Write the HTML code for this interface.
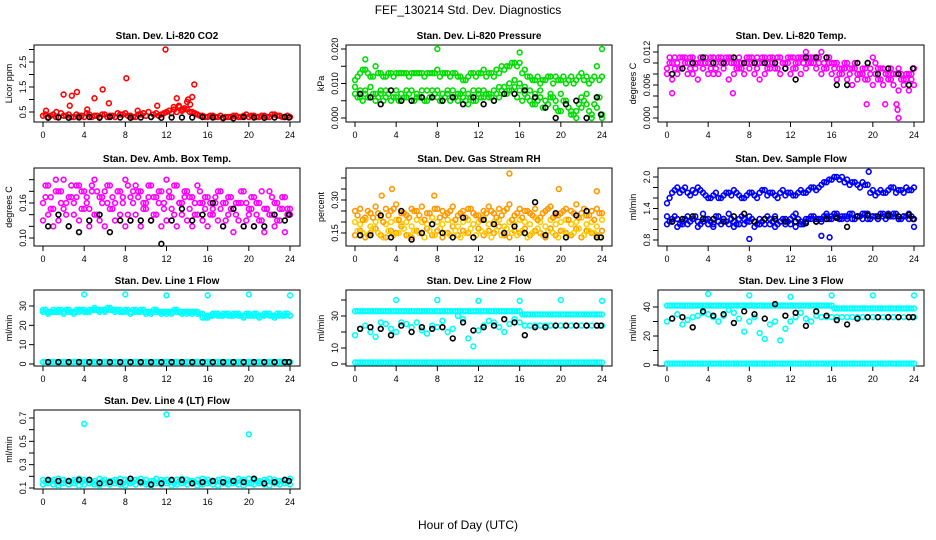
<!DOCTYPE html>
<html><head><meta charset="utf-8">
<style>
html,body{margin:0;padding:0;background:#fff;}
svg{display:block;font-family:"Liberation Sans",Arial,sans-serif;}
</style></head>
<body>
<svg id="c" width="936" height="540" viewBox="0 0 936 540">
<text x="468" y="14" text-anchor="middle" font-size="12">FEF_130214  Std. Dev. Diagnostics</text>
<text x="468" y="529" text-anchor="middle" font-size="12">Hour of Day (UTC)</text>
</svg>
<script>
// ---- shared hour categories ----
const hours = [0,0.5,1,1.5,2,2.5,3,3.5,4,4.5,5,5.5,6,6.5,7,7.5,8,8.5,9,9.5,10,10.5,11,11.5,12,12.5,13,13.5,14,14.5,15,15.5,16,16.5,17,17.5,18,18.5,19,19.5,20,20.5,21,21.5,22,22.5,23,23.5,24];
const hoursQ = [0.25,0.75,1.25,1.75,2.25,2.75,3.25,3.75,4.25,4.75,5.25,5.75,6.25,6.75,7.25,7.75,8.25,8.75,9.25,9.75,10.25,10.75,11.25,11.75,12.25,12.75,13.25,13.75,14.25,14.75,15.25,15.75,16.25,16.75,17.25,17.75,18.25,18.75,19.25,19.75,20.25,20.75,21.25,21.75,22.25,22.75,23.25,23.75];
const hoursB = [0.5,1.5,2.5,3.5,4.5,5.5,6.5,7.5,8.5,9.5,10.5,11.5,12.5,13.5,14.5,15.5,16.5,17.5,18.5,19.5,20.5,21.5,22.5,23.5,23.9];
const xTicks = [0,4,8,12,16,20,24];
const onesH = [1,1,1,1,1,1,1,1,1,1,1,1,1,1,1,1,1,1,1,1,1,1,1,1,1,1,1,1,1,1,1,1,1,1,1,1,1,1,1,1,1,1,1,1,1,1,1,1,1];
const onesQ = [1,1,1,1,1,1,1,1,1,1,1,1,1,1,1,1,1,1,1,1,1,1,1,1,1,1,1,1,1,1,1,1,1,1,1,1,1,1,1,1,1,1,1,1,1,1,1,1];

// ---- CO2 ----
const co2A = [0.35,0.3,0.4,0.3,0.35,0.4,0.3,0.35,0.3,0.4,0.35,0.3,0.4,0.35,0.3,0.4,0.45,0.35,0.3,0.4,0.35,0.3,0.45,0.4,0.5,0.45,0.5,0.55,0.6,0.5,0.4,0.35,0.3,0.35,0.3,0.25,0.3,0.35,0.3,0.35,0.3,0.35,0.3,0.35,0.3,0.4,0.35,0.3,0.3];
const co2Q = [0.4,0.35,0.3,0.45,0.35,0.3,0.4,0.35,0.45,0.3,0.35,0.4,0.3,0.35,0.45,0.4,0.35,0.3,0.4,0.45,0.5,0.4,0.35,0.45,0.55,0.6,0.7,0.65,0.5,0.45,0.35,0.3,0.35,0.3,0.35,0.3,0.3,0.35,0.3,0.4,0.35,0.3,0.35,0.3,0.4,0.35,0.3,0.35];
const co2OutX = [0.3,1.3,2,2.6,2.8,3.3,4.3,5,5.8,6.4,8.1,9.2,11.1,11.9,12.7,13,13.2,14.1,14.5,14.7,14.3,14,13.6];
const co2OutY = [0.55,0.5,1.2,0.75,1.15,1.3,0.6,1.05,1.4,0.85,1.85,0.55,0.75,3.0,0.7,1.05,0.75,1.0,1.1,1.6,0.8,0.9,0.6];
const co2B = [0.27,0.28,0.27,0.28,0.3,0.27,0.3,0.28,0.27,0.28,0.3,0.27,0.28,0.28,0.28,0.3,0.28,0.27,0.25,0.3,0.28,0.27,0.28,0.3,0.28];

// ---- Pressure ----
const presA = [0.011,0.013,0.014,0.012,0.015,0.013,0.012,0.013,0.013,0.013,0.013,0.013,0.013,0.013,0.013,0.013,0.014,0.013,0.013,0.013,0.012,0.011,0.012,0.013,0.013,0.014,0.013,0.012,0.013,0.014,0.015,0.016,0.016,0.014,0.012,0.011,0.010,0.011,0.012,0.012,0.011,0.010,0.012,0.011,0.013,0.012,0.011,0.015,0.012];
const presB = [0.007,0.006,0.007,0.006,0.005,0.007,0.006,0.005,0.006,0.005,0.006,0.005,0.006,0.006,0.005,0.006,0.006,0.005,0.007,0.006,0.005,0.006,0.004,0.005,0.007,0.006,0.006,0.005,0.006,0.007,0.008,0.009,0.008,0.007,0.005,0.004,0.006,0.003,0.006,0.005,0.002,0.004,0.001,0.002,0.006,0.004,0.001,0.006,0.001];
const presC = [0.009,0.008,0.008,0.009,0.007,0.008,0.008,0.008,0.008,0.007,0.008,0.008,0.007,0.008,0.008,0.008,0.008,0.007,0.008,0.008,0.007,0.008,0.007,0.008,0.008,0.008,0.007,0.008,0.009,0.009,0.010,0.011,0.010,0.009,0.008,0.007,0.008,0.005,0.007,0.003,0.007,0.005,0.002,0.000,0.003,0.007,0.000,0.003,0.000];
const presQ = [0.012,0.014,0.013,0.012,0.013,0.012,0.013,0.012,0.013,0.013,0.012,0.013,0.013,0.012,0.013,0.013,0.012,0.013,0.012,0.013,0.012,0.011,0.013,0.012,0.013,0.012,0.013,0.014,0.015,0.015,0.016,0.015,0.013,0.012,0.011,0.012,0.011,0.012,0.010,0.011,0.012,0.011,0.010,0.012,0.011,0.010,0.012,0.011];
const presQ2 = [0.006,0.005,0.006,0.007,0.006,0.005,0.007,0.006,0.005,0.006,0.007,0.005,0.006,0.005,0.006,0.007,0.005,0.006,0.005,0.006,0.007,0.005,0.006,0.005,0.006,0.007,0.006,0.007,0.008,0.007,0.008,0.006,0.005,0.006,0.004,0.005,0.003,0.004,0.006,0.002,0.005,0.003,0.001,0.004,0.005,0.002,0.004,0.006];
const presOutX = [8,16,24,1];
const presOutY = [0.020,0.019,0.020,0.017];
const presBlk = [0.007,0.006,0.004,0.008,0.005,0.005,0.006,0.006,0.005,0.006,0.004,0.006,0.004,0.005,0.007,0.007,0.008,0.006,0.003,0.000,0.004,0.005,0.000,0.006,0.001];

// ---- Li-820 Temp ----
const tmpA = [0.009,0.010,0.010,0.011,0.010,0.011,0.010,0.009,0.010,0.011,0.011,0.010,0.011,0.010,0.011,0.010,0.011,0.010,0.010,0.011,0.011,0.010,0.011,0.010,0.011,0.010,0.011,0.012,0.011,0.011,0.012,0.011,0.010,0.010,0.009,0.010,0.009,0.008,0.009,0.010,0.011,0.009,0.009,0.008,0.008,0.009,0.007,0.008,0.009];
const tmpB = [0.008,0.007,0.008,0.009,0.008,0.008,0.007,0.009,0.008,0.008,0.008,0.009,0.007,0.008,0.009,0.008,0.009,0.008,0.007,0.008,0.009,0.009,0.008,0.009,0.008,0.009,0.008,0.009,0.010,0.009,0.008,0.009,0.008,0.007,0.008,0.007,0.006,0.007,0.008,0.007,0.006,0.007,0.006,0.007,0.006,0.005,0.006,0.005,0.006];
const tmpQ = [0.010,0.009,0.011,0.010,0.009,0.010,0.011,0.010,0.009,0.010,0.011,0.010,0.011,0.010,0.009,0.011,0.010,0.011,0.010,0.009,0.010,0.011,0.010,0.011,0.009,0.010,0.011,0.010,0.011,0.010,0.009,0.010,0.009,0.008,0.009,0.008,0.009,0.008,0.007,0.009,0.008,0.007,0.008,0.007,0.008,0.007,0.008,0.007];
const tmpQ2 = [0.011,0.011,0.009,0.011,0.011,0.009,0.010,0.011,0.011,0.009,0.010,0.011,0.010,0.009,0.010,0.010,0.011,0.009,0.011,0.010,0.011,0.009,0.010,0.010,0.011,0.011,0.010,0.011,0.010,0.011,0.010,0.011,0.010,0.009,0.010,0.009,0.010,0.008,0.009,0.008,0.010,0.009,0.008,0.009,0.008,0.008,0.007,0.008];
const tmpOutX = [0.5,19.4,21.2,22.3,22.4,22.5,6.4];
const tmpOutY = [0.0045,0.0025,0.0025,0.0025,0.0015,0.0,0.0045];
const tmpBlk = [0.008,0.009,0.010,0.011,0.010,0.010,0.011,0.010,0.010,0.010,0.010,0.009,0.007,0.011,0.011,0.011,0.006,0.006,0.010,0.010,0.008,0.009,0.008,0.006,0.009];

// ---- Amb Box Temp ----
const ambA = [0.16,0.19,0.15,0.18,0.20,0.17,0.16,0.19,0.18,0.15,0.20,0.17,0.18,0.19,0.16,0.18,0.20,0.17,0.19,0.18,0.16,0.19,0.17,0.18,0.20,0.17,0.19,0.16,0.18,0.17,0.19,0.16,0.17,0.15,0.18,0.16,0.17,0.15,0.16,0.18,0.15,0.17,0.16,0.15,0.18,0.16,0.15,0.17,0.15];
const ambB = [0.13,0.14,0.12,0.13,0.15,0.12,0.14,0.13,0.15,0.12,0.14,0.13,0.12,0.15,0.13,0.14,0.12,0.13,0.14,0.12,0.15,0.13,0.14,0.12,0.13,0.15,0.12,0.14,0.13,0.12,0.14,0.13,0.12,0.14,0.13,0.12,0.14,0.11,0.13,0.12,0.14,0.12,0.13,0.11,0.14,0.12,0.13,0.11,0.14];
const ambQ = [0.17,0.15,0.18,0.16,0.14,0.19,0.17,0.15,0.16,0.18,0.14,0.17,0.16,0.15,0.18,0.17,0.14,0.16,0.18,0.15,0.17,0.14,0.16,0.15,0.18,0.14,0.16,0.17,0.15,0.14,0.16,0.15,0.14,0.16,0.15,0.13,0.15,0.14,0.16,0.13,0.15,0.14,0.13,0.15,0.14,0.13,0.15,0.14];
const ambQ2 = [0.19,0.17,0.20,0.18,0.16,0.17,0.19,0.18,0.17,0.19,0.18,0.16,0.19,0.17,0.18,0.16,0.19,0.18,0.17,0.16,0.19,0.17,0.18,0.16,0.17,0.19,0.16,0.18,0.17,0.16,0.18,0.17,0.16,0.17,0.18,0.16,0.17,0.16,0.18,0.16,0.17,0.16,0.18,0.15,0.17,0.16,0.17,0.15];
const ambBlk = [0.12,0.14,0.12,0.11,0.13,0.14,0.11,0.13,0.13,0.13,0.13,0.09,0.13,0.15,0.13,0.14,0.16,0.12,0.15,0.12,0.12,0.12,0.14,0.13,0.14];

// ---- Gas Stream RH ----
const rhA = [0.25,0.26,0.22,0.24,0.27,0.23,0.26,0.25,0.28,0.24,0.23,0.26,0.25,0.27,0.24,0.22,0.26,0.25,0.24,0.27,0.23,0.25,0.26,0.24,0.23,0.25,0.27,0.24,0.26,0.25,0.28,0.23,0.26,0.25,0.24,0.26,0.22,0.25,0.27,0.23,0.24,0.26,0.25,0.28,0.24,0.23,0.25,0.26,0.24];
const rhB = [0.14,0.16,0.13,0.15,0.17,0.14,0.13,0.16,0.15,0.18,0.14,0.13,0.16,0.15,0.17,0.14,0.16,0.13,0.15,0.18,0.14,0.16,0.15,0.13,0.17,0.14,0.16,0.15,0.18,0.14,0.13,0.16,0.15,0.17,0.14,0.16,0.15,0.13,0.17,0.14,0.16,0.15,0.14,0.17,0.13,0.16,0.15,0.14,0.16];
const rhC = [0.20,0.19,0.21,0.18,0.20,0.22,0.19,0.20,0.21,0.19,0.20,0.18,0.21,0.20,0.19,0.22,0.20,0.19,0.21,0.20,0.18,0.20,0.21,0.19,0.20,0.22,0.19,0.20,0.21,0.18,0.20,0.19,0.21,0.20,0.19,0.22,0.20,0.18,0.21,0.19,0.20,0.21,0.19,0.20,0.22,0.19,0.20,0.18,0.21];
const rhQ = [0.16,0.15,0.14,0.17,0.15,0.13,0.16,0.14,0.15,0.17,0.14,0.16,0.15,0.13,0.16,0.14,0.17,0.15,0.14,0.16,0.13,0.15,0.17,0.14,0.16,0.15,0.13,0.16,0.14,0.17,0.15,0.14,0.16,0.13,0.15,0.17,0.14,0.16,0.15,0.13,0.16,0.14,0.15,0.17,0.14,0.16,0.15,0.13];
const rhQ2 = [0.23,0.21,0.25,0.22,0.24,0.20,0.23,0.26,0.21,0.24,0.22,0.25,0.23,0.21,0.24,0.26,0.22,0.23,0.25,0.21,0.24,0.22,0.26,0.23,0.21,0.24,0.25,0.22,0.23,0.26,0.21,0.24,0.22,0.25,0.23,0.21,0.24,0.26,0.22,0.23,0.25,0.21,0.24,0.22,0.26,0.23,0.21,0.24];
const rhOutX = [3.6,15,19.8,23.5,2.6,7.7];
const rhOutY = [0.35,0.42,0.35,0.34,0.32,0.32];
const rhBlk = [0.14,0.14,0.23,0.13,0.25,0.12,0.15,0.19,0.15,0.13,0.22,0.13,0.21,0.19,0.15,0.18,0.15,0.29,0.14,0.24,0.13,0.23,0.25,0.13,0.13];

// ---- Sample Flow ----
const sfA = [1.5,1.7,1.8,1.75,1.7,1.75,1.8,1.7,1.6,1.65,1.6,1.65,1.7,1.75,1.65,1.6,1.7,1.65,1.7,1.75,1.7,1.65,1.7,1.65,1.7,1.65,1.75,1.7,1.8,1.75,1.85,1.9,1.95,2.0,2.0,1.95,1.9,1.85,1.9,1.85,1.75,1.7,1.7,1.75,1.8,1.75,1.7,1.75,1.8];
const sfB = [1.25,1.15,1.2,1.1,1.25,1.2,1.15,1.3,1.2,1.1,1.25,1.2,1.3,1.15,1.1,1.2,1.25,1.15,1.2,1.1,1.2,1.25,1.15,1.1,1.2,1.3,1.15,1.2,1.25,1.2,1.15,1.3,1.25,1.3,1.25,1.2,1.3,1.25,1.2,1.3,1.25,1.2,1.3,1.25,1.3,1.2,1.25,1.3,1.2];
const sfC = [1.1,1.2,1.05,1.15,1.1,1.2,1.05,1.15,1.1,1.05,1.15,1.2,1.1,1.05,1.2,1.1,1.15,1.05,1.1,1.2,1.1,1.05,1.15,1.2,1.1,1.05,1.1,1.15,1.2,1.15,1.2,1.25,1.2,1.25,1.2,1.25,1.2,1.25,1.3,1.2,1.25,1.2,1.25,1.3,1.25,1.2,1.25,1.2,1.05];
const sfQ = [1.6,1.75,1.7,1.8,1.65,1.7,1.75,1.65,1.6,1.7,1.6,1.7,1.65,1.7,1.6,1.65,1.7,1.6,1.75,1.65,1.7,1.6,1.75,1.7,1.65,1.7,1.7,1.75,1.8,1.8,1.9,1.95,2.0,1.95,1.9,1.85,1.9,1.8,1.85,1.7,1.65,1.75,1.7,1.8,1.7,1.75,1.8,1.75];
const sfQ2 = [1.15,1.25,1.1,1.2,1.15,1.25,1.1,1.2,1.15,1.25,1.1,1.15,1.2,1.1,1.25,1.15,1.2,1.1,1.15,1.25,1.15,1.1,1.2,1.15,1.25,1.2,1.1,1.2,1.25,1.2,1.25,1.2,1.3,1.2,1.25,1.3,1.2,1.25,1.3,1.2,1.25,1.3,1.2,1.25,1.3,1.2,1.25,1.25];
const sfOutX = [8,15,15.8,19.6];
const sfOutY = [0.82,0.88,0.85,2.1];
const sfBlk = [1.15,1.2,1.25,1.2,1.2,1.15,1.25,1.3,1.15,1.2,1.2,1.15,1.15,1.12,1.15,1.2,1.22,1.05,1.25,1.27,1.25,1.27,1.25,1.28,1.2];

// ---- Line 1 Flow ----
const l1A = [28,27,28,28,27,28,27,28,28,28,29,28,28,29,28,28,28,27,28,28,27,27,28,27,27,27,28,27,27,27,27,26,25,26,26,26,26,26,26,25,26,26,25,26,26,25,26,26,25];
const l1B = [27,26,27,27,26,27,26,27,27,27,28,27,27,28,27,27,27,26,27,27,26,26,27,26,26,26,27,26,26,26,26,24,24,25,25,25,25,25,25,24,25,25,24,25,25,24,25,25,25];
const l1Q = [28,27,27,28,28,27,28,28,27,28,28,28,29,28,28,27,28,28,27,28,27,28,27,27,27,28,27,27,27,27,26,24,25,26,25,26,25,26,25,26,25,26,25,26,25,26,25,26];
const l1OutX = [4,8,12,16,20,24];
const l1OutY = [36,36,35.5,35.5,36,35.5];
const l1Blk = [1,1,1,1,1,1,1,1,1,1,1,1,1,1,1,1,1,1,1,1,1,1,1,1,1];

// ---- Line 2 Flow ----
const l2A = [33,33,33,33,33,33,33,33,33,33,33,33,33,33,33,33,33,33,33,33,33,33,33,33,33,33,33,33,33,33,33,33,33,31,31,31,31,31,31,31,31,31,31,31,31,31,31,31,31];
const l2Q = [33,33,33,33,33,33,33,33,33,33,33,33,33,33,33,33,33,33,33,33,33,33,33,33,33,33,33,33,33,33,33,33,31,31,31,31,31,31,31,31,31,31,31,31,31,31,31,31];
const l2B = [18,22,24,20,17,26,25,22,20,26,25,23,26,21,19,24,23,27,20,22,30,28,16,11,21,24,27,26,23,20,25,28,26,24,24,24,24,24,24,24,24,24,24,24,24,24,24,24,24];
const l2OutX = [4,8,12,16,20,24];
const l2OutY = [40,40,39.5,39.5,40,39.5];
const l2Blk = [22,23,22,18,24,20,23,22,23,16,26,21,23,24,28,26,18,23,23,24,24,24,24,24,24];

// ---- Line 3 Flow ----
const l3A = [41,41,41,41,41,41,41,41,41,41,41,41,41,41,41,41,41,41,41,41,41,41,41,41,41,41,41,41,41,41,41,41,41,39,39,39,39,39,39,39,39,39,39,39,39,39,39,39,39];
const l3Q = [41,41,41,41,41,41,41,41,41,41,41,41,41,41,41,41,41,41,41,41,41,41,41,41,41,41,41,41,41,41,41,41,39,39,39,39,39,39,39,39,39,39,39,39,39,39,39,39];
const l3B = [30,32,35,28,31,33,34,36,35,33,30,34,38,36,32,23,30,33,22,18,28,30,17,25,30,33,36,32,30,34,33,33,33,33,33,33,33,33,33,33,33,33,33,33,33,33,33,33,33];
const l3OutX = [4,8,12,16,20,24];
const l3OutY = [49,48,47,48,48,48];
const l3Blk = [32,33,26,37,34,35,29,37,35,32,42,34,36,27,37,34,31,28,32,33,33,33,33,33,33];

// ---- Line 4 Flow ----
const l4A = [0.17,0.16,0.17,0.18,0.17,0.16,0.17,0.18,0.17,0.17,0.16,0.18,0.17,0.16,0.17,0.18,0.17,0.16,0.17,0.18,0.17,0.16,0.18,0.17,0.17,0.16,0.17,0.18,0.17,0.16,0.17,0.18,0.17,0.16,0.17,0.18,0.17,0.16,0.18,0.17,0.18,0.17,0.16,0.17,0.18,0.17,0.16,0.17,0.18];
const l4B = [0.13,0.14,0.13,0.12,0.14,0.13,0.14,0.12,0.13,0.14,0.13,0.12,0.14,0.13,0.14,0.13,0.12,0.14,0.13,0.14,0.13,0.12,0.14,0.13,0.14,0.12,0.13,0.14,0.13,0.14,0.12,0.13,0.14,0.13,0.12,0.14,0.13,0.14,0.13,0.12,0.14,0.13,0.14,0.13,0.12,0.14,0.13,0.14,0.13];
const l4Q = [0.15,0.16,0.15,0.14,0.16,0.15,0.16,0.15,0.16,0.15,0.14,0.16,0.15,0.16,0.15,0.14,0.16,0.15,0.16,0.15,0.14,0.16,0.15,0.16,0.15,0.14,0.16,0.15,0.16,0.15,0.14,0.16,0.15,0.16,0.15,0.14,0.16,0.15,0.16,0.15,0.14,0.16,0.15,0.16,0.15,0.14,0.16,0.15];
const l4OutX = [4,12,20];
const l4OutY = [0.65,0.73,0.56];
const l4Blk = [0.17,0.16,0.16,0.17,0.17,0.14,0.15,0.15,0.18,0.15,0.13,0.14,0.17,0.17,0.14,0.15,0.16,0.15,0.16,0.15,0.18,0.14,0.15,0.17,0.16];

const NS = "http://www.w3.org/2000/svg";
const svg = document.getElementById('c');
const rowTop = [45,168,290,410], rowBot = [122,246,366,489];
const RED='#ff0000', GRN='#00dd00', MAG='#ff00ff', ORG='#ff9900', YEL='#ffcc00', BLU='#0000ff', CYA='#00ffff', BLK='#000000';

function mk(tag, attrs, parent){
  const e = document.createElementNS(NS, tag);
  for (const k in attrs) e.setAttribute(k, attrs[k]);
  parent.appendChild(e); return e;
}

const panels = [
  {name:'co2', col:0,row:0,title:'Stan. Dev. Li-820 CO2', ylab:'Licor ppm', v0:0.5,p0:112, v1:2.5,p1:62,
   ticks:[0.5,1,1.5,2,2.5,3], labels:['0.5','1.5','2.5'],
   series:[{name:'co2-series',x:hours,y:co2A,color:RED},{name:'co2-series-2',x:hoursQ,y:co2Q,color:RED},{name:'co2-outliers',x:co2OutX,y:co2OutY,color:RED},{name:'co2-black-series',x:hoursB,y:co2B,color:BLK}]},
  {name:'pressure', col:1,row:0,title:'Stan. Dev. Li-820 Pressure', ylab:'kPa', v0:0,p0:118, v1:0.02,p1:49,
   ticks:[0,0.005,0.01,0.015,0.02], labels:['0.000','0.010','0.020'],
   series:[{name:'pressure-upper',x:hours,y:presA,color:GRN},{name:'pressure-upper-2',x:hoursQ,y:presQ,color:GRN},{name:'pressure-lower',x:hours,y:presB,color:GRN},{name:'pressure-lower-2',x:hoursQ,y:presQ2,color:GRN},{name:'pressure-mid',x:hours,y:presC,color:GRN},{name:'pressure-outliers',x:presOutX,y:presOutY,color:GRN},{name:'pressure-black-series',x:hoursB,y:presBlk,color:BLK}]},
  {name:'li820-temp', col:2,row:0,title:'Stan. Dev. Li-820 Temp.', ylab:'degrees C', v0:0,p0:118, v1:0.012,p1:52,
   ticks:[0,0.002,0.004,0.006,0.008,0.01,0.012], labels:['0.000','0.006','0.012'],
   series:[{name:'temp-upper',x:hours,y:tmpA,color:MAG},{name:'temp-lower',x:hours,y:tmpB,color:MAG},{name:'temp-q',x:hoursQ,y:tmpQ,color:MAG},{name:'temp-q2',x:hoursQ,y:tmpQ2,color:MAG},{name:'temp-outliers',x:tmpOutX,y:tmpOutY,color:MAG},{name:'temp-black-series',x:hoursB,y:tmpBlk,color:BLK}]},
  {name:'amb-box-temp', col:0,row:1,title:'Stan. Dev. Amb. Box Temp.', ylab:'degrees C', v0:0.10,p0:238, v1:0.16,p1:203,
   ticks:[0.1,0.12,0.14,0.16,0.18,0.2], labels:['0.10','0.16'],
   series:[{name:'amb-upper',x:hours,y:ambA,color:MAG},{name:'amb-lower',x:hours,y:ambB,color:MAG},{name:'amb-q',x:hoursQ,y:ambQ,color:MAG},{name:'amb-q2',x:hoursQ,y:ambQ2,color:MAG},{name:'amb-black-series',x:hoursB,y:ambBlk,color:BLK}]},
  {name:'gas-rh', col:1,row:1,title:'Stan. Dev. Gas Stream RH', ylab:'percent', v0:0.15,p0:233, v1:0.30,p1:200,
   ticks:[0.15,0.2,0.25,0.3,0.35,0.4], labels:['0.15','0.30'],
   series:[{name:'rh-upper',x:hours,y:rhA,color:ORG},{name:'rh-lower',x:hours,y:rhB,color:ORG},{name:'rh-mid',x:hours,y:rhC,color:YEL},{name:'rh-q',x:hoursQ,y:rhQ,color:YEL},{name:'rh-q2',x:hoursQ,y:rhQ2,color:ORG},{name:'rh-outliers',x:rhOutX,y:rhOutY,color:ORG},{name:'rh-black-series',x:hoursB,y:rhBlk,color:BLK}]},
  {name:'sample-flow', col:2,row:1,title:'Stan. Dev. Sample Flow', ylab:'ml/min', v0:0.8,p0:240, v1:2.0,p1:177,
   ticks:[0.8,1,1.2,1.4,1.6,1.8,2], labels:['0.8','1.4','2.0'],
   series:[{name:'flow-upper',x:hours,y:sfA,color:BLU},{name:'flow-upper-2',x:hoursQ,y:sfQ,color:BLU},{name:'flow-lower',x:hours,y:sfB,color:BLU},{name:'flow-lower2',x:hours,y:sfC,color:BLU},{name:'flow-lower3',x:hoursQ,y:sfQ2,color:BLU},{name:'flow-outliers',x:sfOutX,y:sfOutY,color:BLU},{name:'flow-black-series',x:hoursB,y:sfBlk,color:BLK}]},
  {name:'line1-flow', col:0,row:2,title:'Stan. Dev. Line 1 Flow', ylab:'ml/min', v0:0,p0:364, v1:30,p1:306,
   ticks:[0,10,20,30], labels:['0','10','20','30'],
   series:[{name:'l1-upper',x:hours,y:l1A,color:CYA},{name:'l1-upper2',x:hours,y:l1B,color:CYA},{name:'l1-upper3',x:hoursQ,y:l1Q,color:CYA},{name:'l1-bottom',x:hours,y:onesH,color:CYA},{name:'l1-bottom2',x:hoursQ,y:onesQ,color:CYA},{name:'l1-outliers',x:l1OutX,y:l1OutY,color:CYA},{name:'l1-black-series',x:hoursB,y:l1Blk,color:BLK}]},
  {name:'line2-flow', col:1,row:2,title:'Stan. Dev. Line 2 Flow', ylab:'ml/min', v0:0,p0:364, v1:30,p1:316,
   ticks:[0,10,20,30,40], labels:['0','10','30'],
   series:[{name:'l2-upper',x:hours,y:l2A,color:CYA},{name:'l2-upper2',x:hoursQ,y:l2Q,color:CYA},{name:'l2-scatter',x:hours,y:l2B,color:CYA},{name:'l2-bottom',x:hours,y:onesH,color:CYA},{name:'l2-bottom2',x:hoursQ,y:onesQ,color:CYA},{name:'l2-outliers',x:l2OutX,y:l2OutY,color:CYA},{name:'l2-black-series',x:hoursB,y:l2Blk,color:BLK}]},
  {name:'line3-flow', col:2,row:2,title:'Stan. Dev. Line 3 Flow', ylab:'ml/min', v0:0,p0:365, v1:40,p1:307,
   ticks:[0,10,20,30,40], labels:['0','20','40'],
   series:[{name:'l3-upper',x:hours,y:l3A,color:CYA},{name:'l3-upper2',x:hoursQ,y:l3Q,color:CYA},{name:'l3-scatter',x:hours,y:l3B,color:CYA},{name:'l3-bottom',x:hours,y:onesH,color:CYA},{name:'l3-bottom2',x:hoursQ,y:onesQ,color:CYA},{name:'l3-outliers',x:l3OutX,y:l3OutY,color:CYA},{name:'l3-black-series',x:hoursB,y:l3Blk,color:BLK}]},
  {name:'line4-flow', col:0,row:3,title:'Stan. Dev. Line 4 (LT) Flow', ylab:'ml/min', v0:0.1,p0:488, v1:0.7,p1:418,
   ticks:[0.1,0.2,0.3,0.4,0.5,0.6,0.7], labels:['0.1','0.3','0.5','0.7'],
   series:[{name:'l4-upper',x:hours,y:l4A,color:CYA},{name:'l4-lower',x:hours,y:l4B,color:CYA},{name:'l4-mid',x:hoursQ,y:l4Q,color:CYA},{name:'l4-outliers',x:l4OutX,y:l4OutY,color:CYA},{name:'l4-black-series',x:hoursB,y:l4Blk,color:BLK}]}
];

panels.forEach(cfg => {
  const g = mk('g', {}, svg);
  
  
  const L = 34 + 312*cfg.col, R = 300 + 312*cfg.col;
  const T = rowTop[cfg.row], B = rowBot[cfg.row];
  const xs = h => L + 9 + h*(247/24);
  const ys = v => cfg.p0 + (v - cfg.v0)*(cfg.p1 - cfg.p0)/(cfg.v1 - cfg.v0);
  const t = mk('text', {x:(L+R)/2, y:T-6, 'text-anchor':'middle', 'font-size':'10', 'font-weight':'bold'}, g);
  t.textContent = cfg.title;
  
  
  const bx = mk('rect', {x:L, y:T, width:R-L, height:B-T, fill:'none', stroke:'#000', 'stroke-width':'1'}, g);
  
  
  const xa = mk('g', {}, g);
  
  
  xTicks.forEach(h => {
    mk('line', {x1:xs(h), x2:xs(h), y1:B, y2:B+5, stroke:'#000'}, xa);
    const tl = mk('text', {x:xs(h), y:B+16, 'text-anchor':'middle', 'font-size':'9'}, xa);
    tl.textContent = String(h);
    
    
  });
  const ya = mk('g', {}, g);
  
  
  cfg.ticks.forEach(v => {
    mk('line', {x1:L-5, x2:L, y1:ys(v), y2:ys(v), stroke:'#000'}, ya);
  });
  cfg.labels.forEach(v => {
    const y = ys(parseFloat(v));
    const tl = mk('text', {x:0, y:0, 'text-anchor':'middle', 'font-size':'9', transform:`translate(${L-8},${y}) rotate(-90)`}, ya);
    tl.textContent = v;
    
    
  });
  const yt = mk('text', {x:0, y:0, 'text-anchor':'middle', 'font-size':'9', transform:`translate(${L-22},${(T+B)/2}) rotate(-90)`}, g);
  yt.textContent = cfg.ylab;
  
  
  cfg.series.forEach(s => {
    const sg = mk('g', {fill:'none', stroke:s.color, 'stroke-width':'1.6'}, g);
    
    
    s.y.forEach((v, i) => {
      const c = mk('circle', {cx:xs(s.x[i]), cy:ys(v), r:'2.4'}, sg);
      
      
    });
  });
});
</script>
</body></html>
